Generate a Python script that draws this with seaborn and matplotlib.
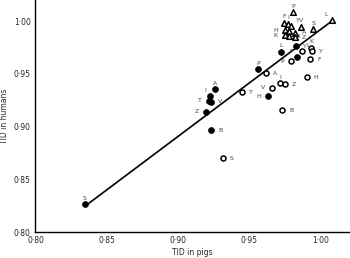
import numpy as np
import pandas as pd
import matplotlib
matplotlib.use("Agg")
import matplotlib.pyplot as plt
import seaborn as sns

# ---- data (TID in pigs, TID in humans) ----
tri_labels = ["P", "F", "I", "Y", "V", "S", "L", "H", "T", "A", "K", "B", "Z"]
tri_pig = [0.9809, 0.9749, 0.9775, 0.9798, 0.9865, 0.9951, 1.0080, 0.9756, 0.9782, 0.9822, 0.9750, 0.9780, 0.9822]
tri_human = [1.0082, 0.9986, 0.9972, 0.9953, 0.9946, 0.9921, 1.0007, 0.9915, 0.9908, 0.9891, 0.9867, 0.9856, 0.9846]

fill_labels = ["S", "Z", "T", "V", "I", "A", "B", "P", "H", "L", "Y", "F"]
fill_pig = [0.8346, 0.9197, 0.9219, 0.9232, 0.9228, 0.9260, 0.9235, 0.9563, 0.9635, 0.9722, 0.9829, 0.9839]
fill_human = [0.8265, 0.9141, 0.9243, 0.9235, 0.9290, 0.9354, 0.8965, 0.9543, 0.9290, 0.9710, 0.9759, 0.9662]

open_labels = ["S", "B", "T", "A", "V", "I", "Z", "H", "P", "F", "L", "K", "Y"]
open_pig = [0.9315, 0.9733, 0.9450, 0.9617, 0.9659, 0.9717, 0.9752, 0.9905, 0.9792, 0.9928, 0.9873, 0.9938, 0.9942]
open_human = [0.8700, 0.9155, 0.9328, 0.9505, 0.9369, 0.9410, 0.9400, 0.9467, 0.9621, 0.9637, 0.9719, 0.9744, 0.9716]

x_ticks = [0.80, 0.85, 0.90, 0.95, 1.00]
y_ticks = [0.80, 0.85, 0.90, 0.95, 1.00]
tick_text = ["0·80", "0·85", "0·90", "0·95", "1·00"]

# label placement (style only)
place = {
    "tri": {"P": "up", "F": "up", "I": "up", "Y": "upr", "V": "up", "S": "up", "L": "upl",
            "H": "left", "T": None, "A": "right", "K": "left", "B": "right", "Z": "right"},
    "fill": {"S": "up", "Z": "left", "T": "left", "V": "right", "I": "upl", "A": "up",
             "B": "right", "P": "up", "H": "left", "L": "up", "Y": "right", "F": "upl"},
    "open": {"S": "right", "B": "right", "T": "right", "A": "right", "V": "left", "I": "up",
             "Z": "right", "H": "right", "P": "left", "F": "right", "L": "upr", "K": "up", "Y": "right"},
}
offs = {"up": (0, 4.5), "upl": (-3, 4), "upr": (3, 4), "left": (-5, 0), "right": (5, 0)}

df = pd.concat([
    pd.DataFrame({"pig": tri_pig, "human": tri_human, "lab": tri_labels, "grp": "tri"}),
    pd.DataFrame({"pig": fill_pig, "human": fill_human, "lab": fill_labels, "grp": "fill"}),
    pd.DataFrame({"pig": open_pig, "human": open_human, "lab": open_labels, "grp": "open"}),
], ignore_index=True)

sns.set_style("white")
plt.rcParams["font.family"] = ["DejaVu Sans"]

fig = plt.figure(figsize=(3.5, 2.58), dpi=100)
ax = fig.add_axes([0.1014, 0.0996, 0.8957, 0.9004])

# regression line
slope, intercept = np.polyfit(df["pig"], df["human"], 1)
xs = np.array([df["pig"].min(), df["pig"].max()])
ax.plot(xs, slope * xs + intercept, color="black", lw=1.2, zorder=2)

sns.scatterplot(data=df[df.grp == "fill"], x="pig", y="human", marker="o", s=18,
                color="black", edgecolor="black", linewidth=0.5, ax=ax, zorder=3)
sns.scatterplot(data=df[df.grp == "open"], x="pig", y="human", marker="o", s=13,
                facecolor="white", edgecolor="black", linewidth=1.1, ax=ax, zorder=3)
sns.scatterplot(data=df[df.grp == "tri"], x="pig", y="human", marker="^", s=16,
                facecolor="white", edgecolor="black", linewidth=1.1, ax=ax, zorder=3)

for _, r in df.iterrows():
    p = place[r.grp].get(r.lab)
    if p is None:
        continue
    dx, dy = offs[p]
    ha = "center" if dx == 0 else ("right" if dx < 0 else "left")
    ax.annotate(r.lab, (r.pig, r.human), xytext=(dx, dy), textcoords="offset points",
                ha=ha, va="center", fontsize=4.5, color="#444444")

ax.set_xlim(0.80, 1.0202)
ax.set_ylim(0.80, 1.0199)
ax.set_xticks(x_ticks)
ax.set_xticklabels(tick_text)
ax.set_yticks(y_ticks)
ax.set_yticklabels(tick_text)
ax.set_xlabel("TID in pigs", fontsize=5.5, labelpad=2)
ax.set_ylabel("TID in humans", fontsize=5.5, labelpad=3)
ax.tick_params(axis="x", direction="in", length=2, width=0.8, labelsize=5.5, pad=3)
ax.tick_params(axis="y", direction="out", length=2, width=0.8, labelsize=5.5, pad=1.5)
for s in ["top", "right"]:
    ax.spines[s].set_visible(False)
for s in ["left", "bottom"]:
    ax.spines[s].set_linewidth(1.0)
    ax.spines[s].set_color("black")

fig.savefig("out.png", dpi=100)
